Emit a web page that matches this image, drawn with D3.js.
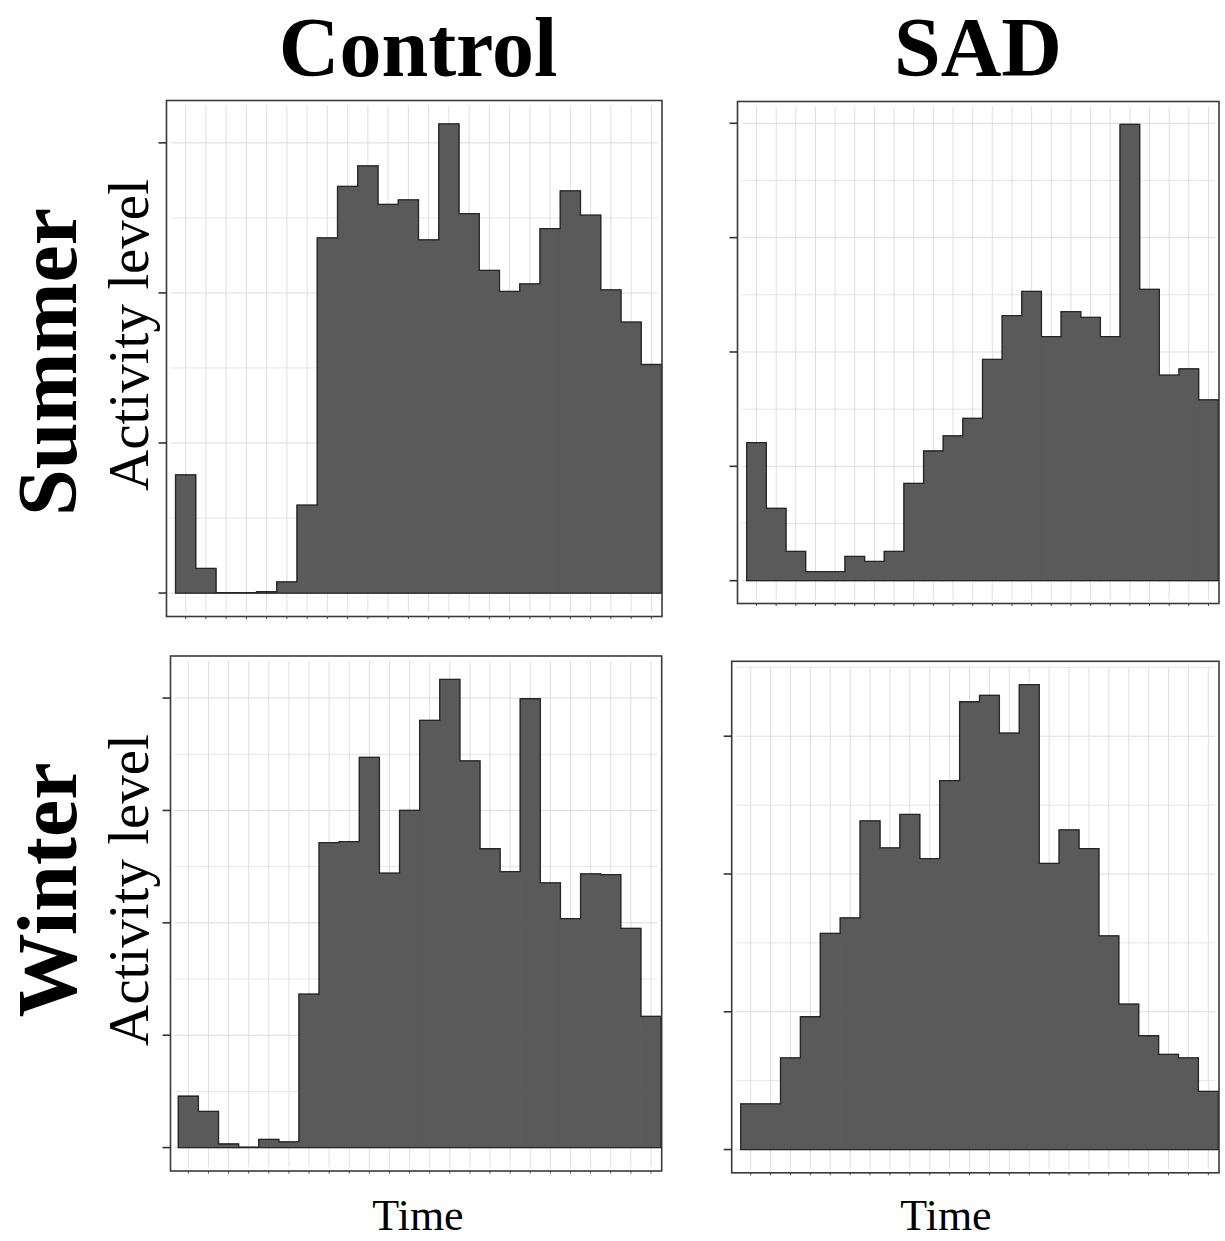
<!DOCTYPE html>
<html>
<head>
<meta charset="utf-8">
<script src="https://cdn.jsdelivr.net/npm/d3@7"></script>
<style>
  body { margin: 0; background: #fff; }
  svg { display: block; }
</style>
</head>
<body>
<div id="chart-area"></div>
<script>
// hour bins 0..23
const HOURS = [0, 1, 2, 3, 4, 5, 6, 7, 8, 9, 10, 11, 12, 13, 14, 15, 16, 17, 18, 19, 20, 21, 22, 23];

// activity level per hour (arbitrary units)
const CONTROL_SUMMER = [78.8, 16.4, 0.2, 0.3, 1.0, 7.4, 58.6, 236.7, 271.0, 284.7, 259.0, 262.0, 235.4, 312.6, 252.9, 215.0, 201.0, 206.0, 242.8, 268.0, 251.8, 202.0, 180.6, 152.3];
const SAD_SUMMER = [120.8, 63.3, 25.6, 8.0, 8.0, 21.2, 16.8, 25.6, 85.1, 113.4, 126.7, 142.0, 193.5, 231.8, 253.0, 213.5, 235.3, 230.3, 213.5, 399.1, 254.8, 179.7, 185.3, 158.2];
const CONTROL_WINTER = [45.7, 32.2, 3.2, 0.3, 7.3, 5.1, 136.6, 271.3, 272.3, 347.3, 244.2, 300.1, 380.2, 416.6, 344.1, 265.9, 245.5, 399.4, 235.6, 203.7, 243.6, 242.9, 195.1, 116.8];
const SAD_WINTER = [33.1, 33.1, 66.5, 96.4, 156.9, 168.1, 238.5, 218.9, 243.2, 211.1, 267.7, 325.0, 329.7, 302.3, 337.5, 207.7, 232.0, 218.4, 155.1, 105.6, 82.6, 69.1, 66.5, 42.2];

// y axis tick values (no labels are printed) and the minor grid between them
const TICKS_CONTROL_SUMMER = [0, 100, 200, 300];
const TICKS_SAD_SUMMER = [0, 100, 200, 300, 400];
const TICKS_CONTROL_WINTER = [0, 100, 200, 300, 400];
const TICKS_SAD_WINTER = [0, 100, 200, 300];
const MINOR_CONTROL_SUMMER = [50, 150, 250];
const MINOR_SAD_SUMMER = [50, 150, 250, 350];
const MINOR_CONTROL_WINTER = [50, 150, 250, 350];
const MINOR_SAD_WINTER = [50, 150, 250, 350];

const COLUMN_TITLES = ["Control", "SAD"];
const ROW_TITLES = ["Summer", "Winter"];
const Y_LABEL = "Activity level";
const X_LABEL = "Time";

const WIDTH = 1225;
const HEIGHT = 1241;
const BAR_FILL = "#5a5a5a";

// panel boxes (frame) and where the 24 bins start / end inside them
const PANELS = [
    { values: CONTROL_SUMMER, ticks: TICKS_CONTROL_SUMMER, minor: MINOR_CONTROL_SUMMER,
      frame: { left: 166.5, top: 100.5, right: 662, bottom: 616.5 }, bins: [175.5, 661.5] },
    { values: SAD_SUMMER, ticks: TICKS_SAD_SUMMER, minor: MINOR_SAD_SUMMER,
      frame: { left: 737.5, top: 101.5, right: 1219, bottom: 603.5 }, bins: [746.7, 1218.3] },
    { values: CONTROL_WINTER, ticks: TICKS_CONTROL_WINTER, minor: MINOR_CONTROL_WINTER,
      frame: { left: 170.5, top: 656, right: 661.7, bottom: 1171 }, bins: [178.3, 661] },
    { values: SAD_WINTER, ticks: TICKS_SAD_WINTER, minor: MINOR_SAD_WINTER,
      frame: { left: 731.7, top: 661.3, right: 1219, bottom: 1172.8 }, bins: [740.7, 1218.3] }
];

const svg = d3.select('#chart-area')
    .append('svg')
    .attr('width', WIDTH)
    .attr('height', HEIGHT)
    .style('font-family', '"Liberation Serif", "Times New Roman", serif');

PANELS.forEach((p, i) => drawPanel(p, i));

function drawPanel(p, i) {
    const f = p.frame;
    const max = d3.max(p.values);

    // ggplot-like 5% expansion on the value axis
    const yScale = d3.scaleLinear().domain([-0.05 * max, 1.05 * max]).range([f.bottom, f.top]);
    const xScale = d3.scaleLinear().domain([0, 24]).range(p.bins);

    const g = svg.append('g').attr('class', `panel panel-${i}`);

    // minor horizontal grid
    g.selectAll('.minor-grid')
        .data(p.minor)
        .enter()
        .append('line')
        .attr('class', 'minor-grid')
        .attr('x1', f.left + 4).attr('x2', f.right - 4)
        .attr('y1', d => yScale(d)).attr('y2', d => yScale(d))
        .attr('stroke', '#e6e6e6')
        .attr('stroke-width', 1);

    // major horizontal grid
    g.selectAll('.major-grid')
        .data(p.ticks)
        .enter()
        .append('line')
        .attr('class', 'major-grid')
        .attr('x1', f.left + 4).attr('x2', f.right - 4)
        .attr('y1', d => yScale(d)).attr('y2', d => yScale(d))
        .attr('stroke', '#dcdcdc')
        .attr('stroke-width', 1);

    // vertical grid at every hour centre
    g.selectAll('.v-grid')
        .data(HOURS)
        .enter()
        .append('line')
        .attr('class', 'v-grid')
        .attr('x1', d => xScale(d + 0.5)).attr('x2', d => xScale(d + 0.5))
        .attr('y1', f.top + 5).attr('y2', f.bottom - 4)
        .attr('stroke', '#dfdfdf')
        .attr('stroke-width', 1);

    // bars (stroked in their own colour so neighbours join without seams)
    g.selectAll('.bar')
        .data(HOURS)
        .enter()
        .append('rect')
        .attr('class', 'bar')
        .attr('x', d => xScale(d))
        .attr('width', xScale(1) - xScale(0))
        .attr('y', d => yScale(p.values[d]))
        .attr('height', d => yScale(0) - yScale(p.values[d]))
        .attr('fill', BAR_FILL)
        .attr('stroke', BAR_FILL)
        .attr('stroke-width', 1);

    // dark outline of the histogram shape
    const steps = HOURS.map(h => [h, p.values[h]]);
    steps.push([24, p.values[23]]);
    const outline = d3.line()
        .x(d => xScale(d[0]))
        .y(d => yScale(d[1]))
        .curve(d3.curveStepAfter);
    g.append('path')
        .attr('d', outline(steps) + `L${xScale(24)},${yScale(0)}L${xScale(0)},${yScale(0)}Z`)
        .attr('fill', 'none')
        .attr('stroke', '#262626')
        .attr('stroke-width', 1.3);

    // frame
    g.append('rect')
        .attr('x', f.left).attr('y', f.top)
        .attr('width', f.right - f.left).attr('height', f.bottom - f.top)
        .attr('fill', 'none')
        .attr('stroke', '#3a3a3a')
        .attr('stroke-width', 1.6);

    // y ticks, no labels
    g.selectAll('.y-tick')
        .data(p.ticks)
        .enter()
        .append('line')
        .attr('class', 'y-tick')
        .attr('x1', f.left - 8).attr('x2', f.left)
        .attr('y1', d => yScale(d)).attr('y2', d => yScale(d))
        .attr('stroke', '#333')
        .attr('stroke-width', 1.6);

    // tiny x ticks under the frame
    g.selectAll('.x-tick')
        .data(HOURS)
        .enter()
        .append('line')
        .attr('class', 'x-tick')
        .attr('x1', d => xScale(d + 0.5)).attr('x2', d => xScale(d + 0.5))
        .attr('y1', f.bottom).attr('y2', f.bottom + 2.5)
        .attr('stroke', '#444')
        .attr('stroke-width', 1);
}

// column titles
const COL_X = [418, 978];
svg.selectAll('.col-title')
    .data(COLUMN_TITLES)
    .enter()
    .append('text')
    .attr('class', 'col-title')
    .attr('x', (d, i) => COL_X[i])
    .attr('y', 76)
    .attr('text-anchor', 'middle')
    .attr('font-size', '84px')
    .attr('font-weight', 'bold')
    .text(d => d);

// row titles (rotated)
const ROW_Y = [362, 890];
svg.selectAll('.row-title')
    .data(ROW_TITLES)
    .enter()
    .append('text')
    .attr('class', 'row-title')
    .attr('transform', (d, i) => `translate(76, ${ROW_Y[i]}) rotate(-90)`)
    .attr('text-anchor', 'middle')
    .attr('font-size', '84px')
    .attr('font-weight', 'bold')
    .text(d => d);

// y axis labels
const YLAB_Y = [335, 890];
svg.selectAll('.y-label')
    .data(YLAB_Y)
    .enter()
    .append('text')
    .attr('class', 'y-label')
    .attr('transform', d => `translate(148, ${d}) rotate(-90)`)
    .attr('text-anchor', 'middle')
    .attr('font-size', '57px')
    .text(Y_LABEL);

// x axis labels
const XLAB_X = [418, 946];
svg.selectAll('.x-label')
    .data(XLAB_X)
    .enter()
    .append('text')
    .attr('class', 'x-label')
    .attr('x', d => d)
    .attr('y', 1230)
    .attr('text-anchor', 'middle')
    .attr('font-size', '44px')
    .text(X_LABEL);
</script>
</body>
</html>
